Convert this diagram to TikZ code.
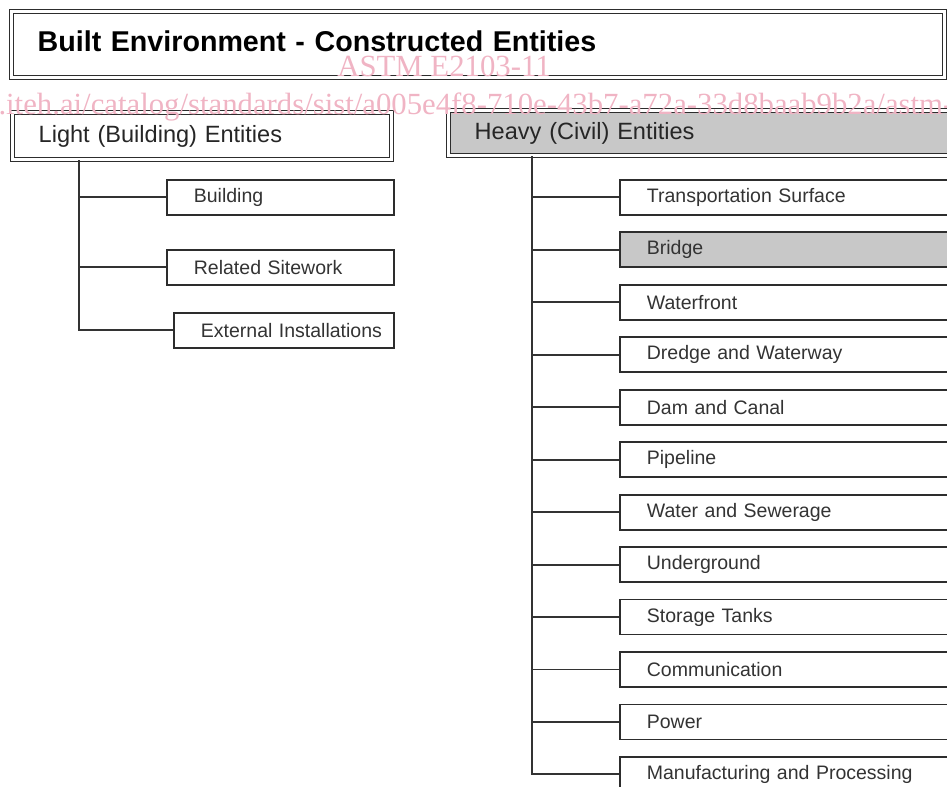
\documentclass[tikz,border=0pt]{standalone}
\usepackage{fontspec}
\setmainfont{Liberation Sans}
\newfontfamily\wmfont{Liberation Serif}
\usepackage{tikz}
\usetikzlibrary{positioning}

\definecolor{boxline}{RGB}{45,45,45}
\definecolor{shade}{RGB}{200,200,200}
\definecolor{wmark}{RGB}{240,180,196}

\begin{document}
\begin{tikzpicture}[node distance=0.314cm,
    head/.style={draw=boxline, double, double distance=1.4pt, line width=0.8pt, anchor=north west,
        inner xsep=0.52cm, inner ysep=0pt, align=left, text width=#1},
    leaf/.style={draw=boxline, line width=1pt, anchor=north west, inner xsep=0pt, inner ysep=0pt,
        minimum height=0.7cm, align=left, text width=#1, text=black!80,
        execute at begin node={\hspace*{0.54cm}},
        font=\fontsize{11.1}{13}\selectfont},
    link/.style={draw=black!80, line width=1.1pt},
    wm/.style={text=wmark, inner sep=0pt, font=\wmfont\fontsize{17.5}{20}\selectfont}]
        \useasboundingbox (0,0) rectangle (18.94,-15.72);
        \clip (0,0) rectangle (18.94,-15.72);

        % top banner
        \node (built) [head=17.62cm, minimum height=1.32cm, text depth=0.14cm, font=\bfseries\fontsize{16.3}{20}\selectfont] at (0.22,-0.22) {Built Environment - Constructed Entities};

        % the two groups
        \node (light) [head=6.54cm, minimum height=0.94cm, font=\fontsize{13.4}{16}\selectfont, text=black!85] at (0.24,-2.24) {Light (Building) Entities};
        \node (heavy) [head=9.36cm, minimum height=0.9cm, fill=shade, font=\fontsize{13.4}{16}\selectfont, text=black!85] at (8.96,-2.2) {Heavy (Civil) Entities};

        % light entities
        \node (bld) [leaf=4.54cm] at (3.32,-3.58) {Building};
        \node (site) [leaf=4.54cm] at (3.32,-4.98) {Related Sitework};
        \node (ext) [leaf=4.4cm] at (3.46,-6.24) {External Installations};

        % heavy entities
        \node (trans) [leaf=7cm] at (12.38,-3.58) {Transportation Surface};
        \node (bridge) [leaf=7cm, fill=shade, below=of trans] {Bridge};
        \node (wfront) [leaf=7cm, below=of bridge] {Waterfront};
        \node (dredge) [leaf=7cm, below=of wfront] {Dredge and Waterway};
        \node (dam) [leaf=7cm, below=of dredge] {Dam and Canal};
        \node (pipe) [leaf=7cm, below=of dam] {Pipeline};
        \node (water) [leaf=7cm, below=of pipe] {Water and Sewerage};
        \node (under) [leaf=7cm, below=of water] {Underground};
        \node (tanks) [leaf=7cm, below=of under] {Storage Tanks};
        \node (comm) [leaf=7cm, below=of tanks] {Communication};
        \node (power) [leaf=7cm, below=of comm] {Power};
        \node (manuf) [leaf=7cm, below=of power] {Manufacturing and Processing};

        \draw[link] ([xshift=1.34cm]light.south west) |- (bld.west);
        \draw[link] ([xshift=1.34cm]light.south west) |- (site.west);
        \draw[link] ([xshift=1.34cm]light.south west) |- (ext.west);

        \draw[link] ([xshift=1.68cm]heavy.south west) |- (trans.west);
        \draw[link] ([xshift=1.68cm]heavy.south west) |- (bridge.west);
        \draw[link] ([xshift=1.68cm]heavy.south west) |- (wfront.west);
        \draw[link] ([xshift=1.68cm]heavy.south west) |- (dredge.west);
        \draw[link] ([xshift=1.68cm]heavy.south west) |- (dam.west);
        \draw[link] ([xshift=1.68cm]heavy.south west) |- (pipe.west);
        \draw[link] ([xshift=1.68cm]heavy.south west) |- (water.west);
        \draw[link] ([xshift=1.68cm]heavy.south west) |- (under.west);
        \draw[link] ([xshift=1.68cm]heavy.south west) |- (tanks.west);
        \draw[link] ([xshift=1.68cm]heavy.south west) |- (comm.west);
        \draw[link] ([xshift=1.68cm]heavy.south west) |- (power.west);
        \draw[link] ([xshift=1.68cm]heavy.south west) |- (manuf.west);

        % stamp over the page
        \node (astm) [wm, anchor=base] at (8.88,-1.52) {ASTM E2103-11};
        \node (url) [wm, anchor=base west] at (-2.36,-2.28) {standards.iteh.ai/catalog/standards/sist/a005e4f8-710e-43b7-a72a-33d8baab9b2a/astm-e2103-11};
    \end{tikzpicture}
\end{document}
